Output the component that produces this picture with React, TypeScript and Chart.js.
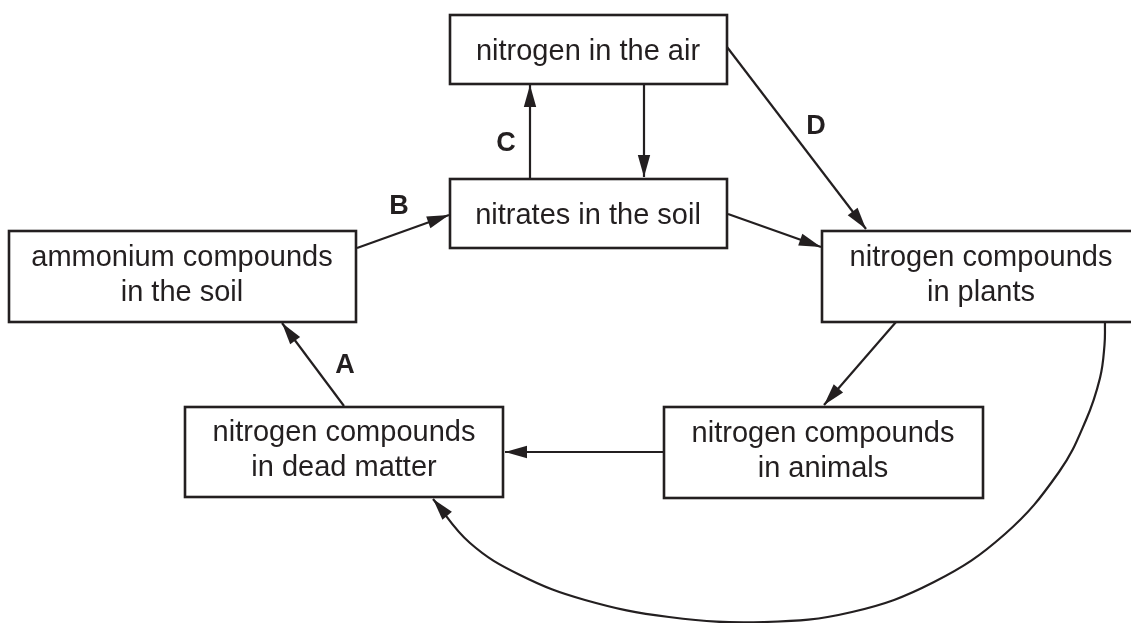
import { useEffect, useRef } from "react";
import { Chart, registerables } from "chart.js";

Chart.register(...registerables);

const INK = "#231f20";
const FONT = '"Liberation Sans", Arial, Helvetica, sans-serif';

// Boxes of the nitrogen cycle
const boxLeft = [450, 450, 9, 822, 185, 664];
const boxTop = [15, 179, 231, 231, 407, 407];
const boxRight = [727, 727, 356, 1140, 503, 983];
const boxBottom = [84, 248, 322, 322, 497, 498];
const boxTextX = [588, 588, 182, 981, 344, 823];
const boxLines: string[][] = [
  ["nitrogen in the air"],
  ["nitrates in the soil"],
  ["ammonium compounds", "in the soil"],
  ["nitrogen compounds", "in plants"],
  ["nitrogen compounds", "in dead matter"],
  ["nitrogen compounds", "in animals"],
];

// Straight arrows (from -> to, head at "to")
const arrowFromX = [530, 644, 727, 357, 728, 896, 664, 344];
const arrowFromY = [179, 84, 47, 248, 214, 322, 452, 406];
const arrowToX = [530, 644, 866, 449, 821, 824, 505, 282];
const arrowToY = [85, 177, 229, 215, 247, 405, 452, 323];

// Curved arrow from plants to dead matter
const curveX = [1105, 1104.5, 1100, 1086, 1059, 1005, 934, 852, 764, 669, 585, 520, 470, 433];
const curveY = [322, 345, 378, 420, 472, 534, 582, 612, 622, 617, 600, 575, 543, 499];

// Letter labels
const labelText = ["A", "B", "C", "D"];
const labelX = [345, 399, 506, 816];
const labelY = [363, 204, 141, 124];

const diagramPlugin = {
  id: "diagram",
  afterDatasetsDraw(chart: any) {
    const { ctx } = chart;
    const xs = chart.scales.x;
    const ys = chart.scales.y;
    const px = (v: number) => xs.getPixelForValue(v);
    const py = (v: number) => ys.getPixelForValue(v);
    ctx.save();
    // arrowheads
    ctx.fillStyle = INK;
    chart.data.datasets.forEach((ds: any) => {
      const d = ds.data;
      const a = d[d.length - 2];
      const b = d[d.length - 1];
      const x1 = px(a.x), y1 = py(a.y), x2 = px(b.x), y2 = py(b.y);
      const ang = Math.atan2(y2 - y1, x2 - x1);
      const L = 22, W = 6.2;
      ctx.beginPath();
      ctx.moveTo(x2, y2);
      ctx.lineTo(x2 - L * Math.cos(ang) + W * Math.sin(ang), y2 - L * Math.sin(ang) - W * Math.cos(ang));
      ctx.lineTo(x2 - L * Math.cos(ang) - W * Math.sin(ang), y2 - L * Math.sin(ang) + W * Math.cos(ang));
      ctx.closePath();
      ctx.fill();
    });
    // boxes
    ctx.strokeStyle = INK;
    ctx.lineWidth = 2.6;
    boxLeft.forEach((l, i) => {
      const x1 = px(l), y1 = py(boxTop[i]), x2 = px(boxRight[i]), y2 = py(boxBottom[i]);
      ctx.strokeRect(x1, y1, x2 - x1, y2 - y1);
      const lines = boxLines[i];
      const cy = (boxTop[i] + boxBottom[i]) / 2;
      ctx.font = `29px ${FONT}`;
      ctx.textAlign = "center";
      ctx.textBaseline = "alphabetic";
      if (lines.length === 1) {
        ctx.fillText(lines[0], px(boxTextX[i]), py(cy + 10.5));
      } else {
        ctx.fillText(lines[0], px(boxTextX[i]), py(cy - 11));
        ctx.fillText(lines[1], px(boxTextX[i]), py(cy + 24));
      }
    });
    // letter labels
    ctx.font = `bold 27px ${FONT}`;
    ctx.textAlign = "center";
    labelText.forEach((t, i) => {
      ctx.fillText(t, px(labelX[i]), py(labelY[i] + 9.7));
    });
    ctx.restore();
  },
};

export default function App() {
  const ref = useRef<HTMLCanvasElement | null>(null);
  useEffect(() => {
    if (!ref.current) return;
    const datasets: any[] = arrowFromX.map((fx, i) => ({
      data: [
        { x: fx, y: arrowFromY[i] },
        { x: arrowToX[i], y: arrowToY[i] },
      ],
      showLine: true,
      borderColor: INK,
      borderWidth: 2.2,
      pointRadius: 0,
      tension: 0,
    }));
    datasets.push({
      data: curveX.map((x, i) => ({ x, y: curveY[i] })),
      showLine: true,
      borderColor: INK,
      borderWidth: 2.2,
      pointRadius: 0,
      tension: 0.4,
    });
    const chart = new Chart(ref.current, {
      type: "scatter",
      data: { datasets },
      options: {
        animation: false,
        responsive: true,
        maintainAspectRatio: false,
        layout: { padding: 0 },
        plugins: { legend: { display: false }, tooltip: { enabled: false } },
        events: [],
        scales: {
          x: { type: "linear", min: 0, max: 1131, display: false },
          y: { type: "linear", min: 0, max: 623, reverse: true, display: false },
        },
      },
      plugins: [diagramPlugin],
    });
    return () => chart.destroy();
  }, []);
  return (
    <div style={{ position: "absolute", left: 0, top: 0, width: 1131, height: 623, background: "#fff" }}>
      <canvas ref={ref} />
    </div>
  );
}
